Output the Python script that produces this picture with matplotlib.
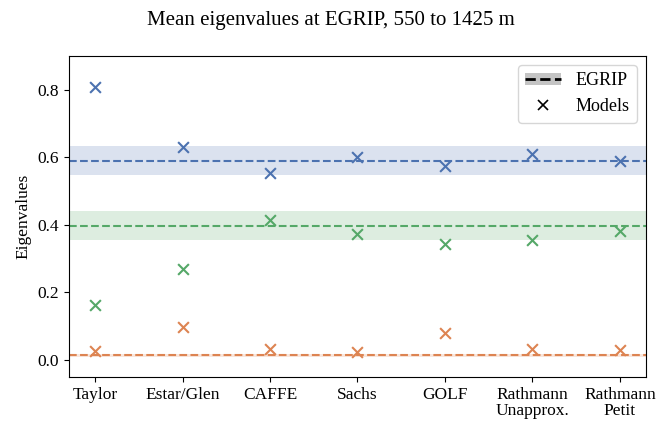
import matplotlib
matplotlib.use("Agg")
import matplotlib.pyplot as plt
from matplotlib.lines import Line2D
from matplotlib.patches import Patch
from matplotlib.legend_handler import HandlerTuple

plt.rcParams["font.family"] = ["Liberation Serif", "DejaVu Serif"]

models = ["Taylor", "Estar/Glen", "CAFFE", "Sachs", "GOLF",
          "Rathmann\nUnapprox.", "Rathmann\nPetit"]

# model eigenvalues (largest, middle, smallest)
eig1 = [0.808, 0.631, 0.553, 0.600, 0.574, 0.610, 0.588]
eig2 = [0.164, 0.270, 0.414, 0.374, 0.344, 0.354, 0.381]
eig3 = [0.026, 0.098, 0.033, 0.023, 0.080, 0.033, 0.029]

# EGRIP means and spread
egrip_mean = [0.590, 0.398, 0.0137]
egrip_std = [0.043, 0.043, 0.005]

colors = ["#4C72B0", "#55A868", "#DD8452"]

fig = plt.figure(figsize=(6.62, 4.22), dpi=100)
ax = fig.add_axes([0.104, 0.107, 0.872, 0.760])

x = list(range(len(models)))
for vals, m, s, c in zip([eig1, eig2, eig3], egrip_mean, egrip_std, colors):
    ax.axhspan(m - s, m + s, color=c, alpha=0.2, linewidth=0)
    ax.axhline(m, color=c, linestyle="--", linewidth=1.5)
    ax.scatter(x, vals, marker="x", color=c, s=60, linewidths=1.5, zorder=3)

ax.set_xlim(-0.3, 6.3)
ax.set_ylim(-0.05, 0.9)
ax.set_xticks(x)
ax.set_xticklabels(models, fontsize=12.5, linespacing=1.0)
ax.set_yticks([0.0, 0.2, 0.4, 0.6, 0.8])
ax.tick_params(axis="y", labelsize=12.5)
ax.set_ylabel("Eigenvalues", fontsize=12.5)
fig.suptitle("Mean eigenvalues at EGRIP, 550 to 1425 m", fontsize=15, y=0.975)

h_egrip = (Patch(facecolor="#c4c4c4", edgecolor="none"),
           Line2D([], [], color="black", linestyle="--", linewidth=2))
h_models = Line2D([], [], color="black", marker="x", linestyle="none",
                  markersize=7, markeredgewidth=1.2)
ax.legend([h_egrip, h_models], ["EGRIP", "Models"], loc="upper right",
          fontsize=13, handler_map={tuple: HandlerTuple(ndivide=1)})

fig.savefig("out.png", dpi=100)
